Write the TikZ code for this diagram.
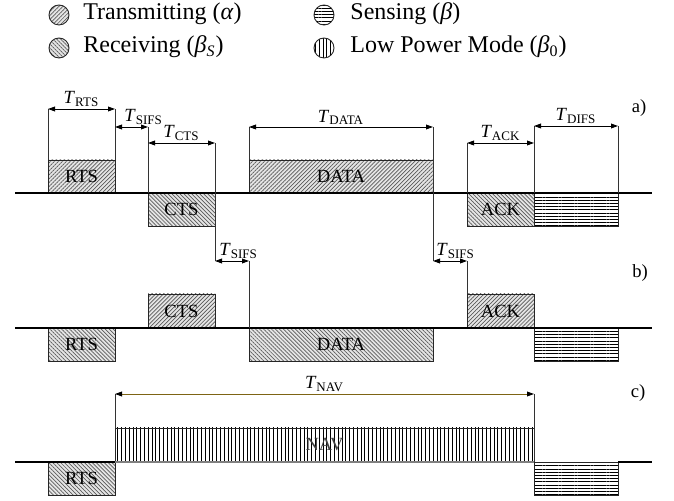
\documentclass[tikz,border=0pt]{standalone}
\usepackage{fontspec}
\setmainfont{Liberation Serif}
\usetikzlibrary{patterns.meta,arrows.meta}

\newcommand{\tdur}[1]{\textit{T}\textsubscript{#1}}
\definecolor{navline}{RGB}{125,100,20}

\tikzset{
  txfill/.style={preaction={fill=gray!20},pattern={Lines[angle=45,distance=1.4pt,line width=0.35pt]},pattern color=black!65},
  rxfill/.style={preaction={fill=gray!20},pattern={Lines[angle=-45,distance=1.4pt,line width=0.35pt]},pattern color=black!65},
  sensefill/.style={preaction={fill=white},pattern={Lines[angle=0,distance=1.6pt,line width=0.45pt]},pattern color=black},
  lpmfill/.style={preaction={fill=white},pattern={Lines[angle=90,distance=1.9pt,line width=0.45pt]},pattern color=black},
  frame/.style={draw=black!85,line width=0.45pt},
  timeline/.style={line width=1pt},
  guide/.style={draw=black!80,line width=0.45pt},
  dur/.style={{Triangle[length=3.5pt,width=2.4pt]}-{Triangle[length=3.5pt,width=2.4pt]},line width=0.45pt},
  lbl/.style={font=\fontsize{9.3}{11}\selectfont,inner sep=1pt},
  key/.style={circle,frame,minimum size=10pt,inner sep=0pt},
  keytext/.style={anchor=base west,font=\fontsize{12}{14}\selectfont,inner sep=0pt},
}

\begin{document}
\begin{tikzpicture}[x=0.5pt,y=-0.5pt]
\useasboundingbox (0,0) rectangle (674,501);

% legend
\node[key,txfill] (ktx) at (59,15) {};
\node[key,rxfill] (krx) at (59,48) {};
\node[key,sensefill] (ksense) at (324,15) {};
\node[key,lpmfill] (klpm) at (324,48) {};
\node[keytext] (ttx) at (83,20) {Transmitting (\textit{α})};
\node[keytext] (trx) at (83,53) {Receiving (\textit{β}\textsubscript{\textit{S}})};
\node[keytext] (tsense) at (350,20) {Sensing (\textit{β})};
\node[keytext] (tlpm) at (350,53) {Low Power Mode (\textit{β}\textsubscript{0})};

% a) sender
\draw[frame,txfill] (48,160) rectangle (115,193) node[lbl,midway] (rtsA) {RTS};
\draw[frame,rxfill] (148,193) rectangle (215,226) node[lbl,midway] (ctsA) {CTS};
\draw[frame,txfill] (249,160) rectangle (433,193) node[lbl,midway] (dataA) {DATA};
\draw[frame,rxfill] (467,193) rectangle (534,226) node[lbl,midway] (ackA) {ACK};
\draw[frame,sensefill] (534,193) rectangle (618,226);
\draw[timeline] (15,193) -- (652,193);

\coordinate (rtsL) at (48,109);
\coordinate (rtsR) at (115,109);
\coordinate (sifsL) at (115,127);
\coordinate (sifsR) at (148,127);
\coordinate (ctsL) at (148,143);
\coordinate (ctsR) at (215,143);
\coordinate (dataL) at (249,127);
\coordinate (dataR) at (433,127);
\coordinate (ackL) at (467,143);
\coordinate (ackR) at (534,143);
\coordinate (difsL) at (534,126);
\coordinate (difsR) at (618,126);
\draw[guide] (rtsL) -- (48,160);
\draw[guide] (rtsR) -- (115,160);
\draw[guide] (sifsR) -- (148,193);
\draw[guide] (ctsR) -- (215,261);
\draw[guide] (dataL) -- (249,160);
\draw[guide] (dataR) -- (433,261);
\draw[guide] (ackL) -- (467,193);
\draw[guide] (difsL) -- (534,193);
\draw[guide] (difsR) -- (618,193);
\draw[dur] (rtsL) -- (rtsR) node[lbl,midway,above] (lrts) {\tdur{RTS}};
\draw[dur] (sifsL) -- (sifsR) node[lbl,pos=0,anchor=south west,xshift=3.5pt] (lsifsA) {\tdur{SIFS}};
\draw[dur] (ctsL) -- (ctsR) node[lbl,midway,above] (lcts) {\tdur{CTS}};
\draw[dur] (dataL) -- (dataR) node[lbl,midway,above] (ldata) {\tdur{DATA}};
\draw[dur] (ackL) -- (ackR) node[lbl,midway,above] (lack) {\tdur{ACK}};
\draw[dur] (difsL) -- (difsR) node[lbl,midway,above] (ldifs) {\tdur{DIFS}};
\node[lbl] (pa) at (639,108) {a)};

% b) receiver
\draw[frame,rxfill] (48,328) rectangle (115,361) node[lbl,midway] (rtsB) {RTS};
\draw[frame,txfill] (148,294) rectangle (215,328) node[lbl,midway] (ctsB) {CTS};
\draw[frame,rxfill] (249,328) rectangle (433,361) node[lbl,midway] (dataB) {DATA};
\draw[frame,txfill] (467,294) rectangle (534,328) node[lbl,midway] (ackB) {ACK};
\draw[frame,sensefill] (534,328) rectangle (618,361);
\draw[timeline] (15,328) -- (652,328);

\coordinate (sifsBL) at (215,261);
\coordinate (sifsBR) at (249,261);
\coordinate (sifsCL) at (433,261);
\coordinate (sifsCR) at (467,261);
\draw[guide] (sifsBR) -- (249,328);
\draw[guide] (sifsCR) -- (467,294);
\draw[dur] (sifsBL) -- (sifsBR) node[lbl,pos=0,anchor=south west,xshift=1pt] (lsifsB) {\tdur{SIFS}};
\draw[dur] (sifsCL) -- (sifsCR) node[lbl,pos=0,anchor=south west,xshift=0.5pt] (lsifsC) {\tdur{SIFS}};
\node[lbl] (pb) at (640,273) {b)};

% c) other nodes
\draw[frame,rxfill] (48,462) rectangle (115,495) node[lbl,midway] (rtsC) {RTS};
\draw[frame,lpmfill] (115,428) rectangle (534,462) node[lbl,midway,text=black!75] (nav) {NAV};
\draw[frame,sensefill] (534,462) rectangle (618,495);
\draw[gray,line width=0.8pt] (115,462) -- (534,462);
\draw[timeline] (15,462) -- (115,462);
\draw[timeline] (618,462) -- (652,462);

\coordinate (navL) at (115,394);
\coordinate (navR) at (534,394);
\draw[guide] (navL) -- (115,428);
\draw[guide] (navR) -- (534,462);
\draw[dur,draw=navline,{Triangle[length=3.5pt,width=2.4pt,color=black]}-{Triangle[length=3.5pt,width=2.4pt,color=black]}] (navL) -- (navR) node[lbl,midway,above,text=black] (lnav) {\tdur{NAV}};
\node[lbl] (pc) at (638,393) {c)};
\end{tikzpicture}
\end{document}
